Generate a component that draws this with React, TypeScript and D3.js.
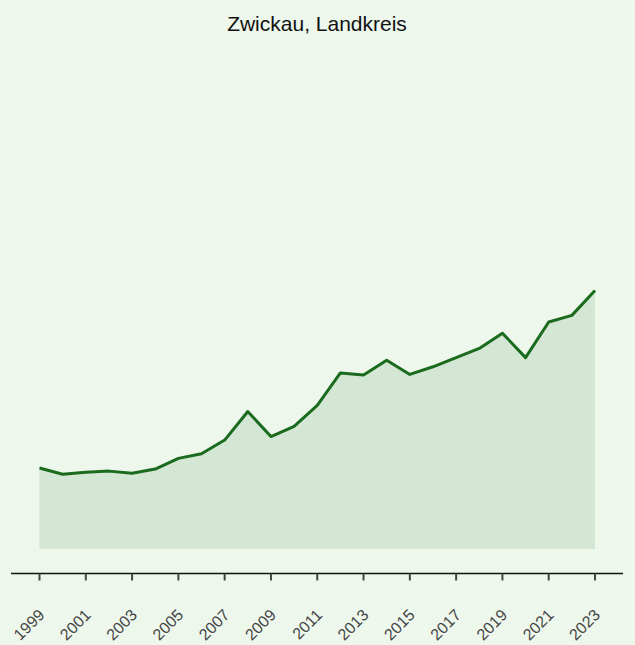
import React from "react";
import * as d3 from "d3";

const years = [1999, 2000, 2001, 2002, 2003, 2004, 2005, 2006, 2007, 2008, 2009, 2010, 2011, 2012, 2013, 2014, 2015, 2016, 2017, 2018, 2019, 2020, 2021, 2022, 2023];
const values = [15.9, 14.7, 15.1, 15.3, 14.9, 15.7, 17.8, 18.7, 21.4, 27.0, 22.1, 24.1, 28.2, 34.6, 34.2, 37.1, 34.3, 35.8, 37.6, 39.4, 42.4, 37.6, 44.6, 45.9, 50.8];
const tickYears = [1999, 2001, 2003, 2005, 2007, 2009, 2011, 2013, 2015, 2017, 2019, 2021, 2023];
const title = "Zwickau, Landkreis";

const W = 635;
const H = 645;

export default function App() {
  const x = d3.scaleLinear().domain([1999, 2023]).range([39.5, 595]);
  const y = d3.scaleLinear().domain([0, 100]).range([549, 40]);
  const data = years.map((yr, i) => ({ yr, v: values[i] }));
  const area = d3
    .area<{ yr: number; v: number }>()
    .x((d) => x(d.yr))
    .y0(y(0))
    .y1((d) => y(d.v));
  const line = d3
    .line<{ yr: number; v: number }>()
    .x((d) => x(d.yr))
    .y((d) => y(d.v));
  const axisY = 573.5;
  return (
    <svg width={W} height={H} style={{ position: "absolute", left: 0, top: 0, fontFamily: "Liberation Sans, Arial, sans-serif" }}>
      <rect width={W} height={H} fill="#edf7ec" />
      <text x={317} y={31} textAnchor="middle" fontSize={21} fill="#111">
        {title}
      </text>
      <path d={area(data) || ""} fill="#d4e6d4" />
      <path d={line(data) || ""} fill="none" stroke="#1a6b1e" strokeWidth={3} strokeLinejoin="round" />
      <line x1={11} x2={623} y1={axisY} y2={axisY} stroke="#111" strokeWidth={1.5} />
      {tickYears.map((t) => (
        <g key={t}>
          <line x1={x(t)} x2={x(t)} y1={axisY} y2={axisY + 7} stroke="#444" strokeWidth={2} />
          <text transform={`translate(${x(t) + 6},${616}) rotate(-45)`} textAnchor="end" fontSize={16} fill="#444">
            {t}
          </text>
        </g>
      ))}
    </svg>
  );
}
